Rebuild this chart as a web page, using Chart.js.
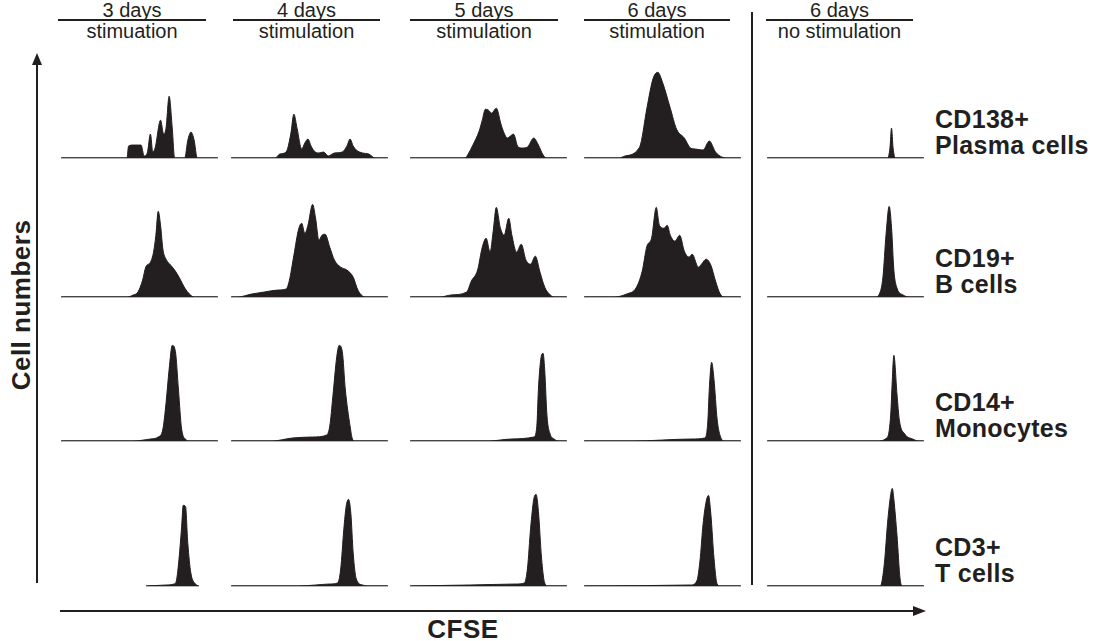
<!DOCTYPE html>
<html>
<head>
<meta charset="utf-8">
<script src="https://cdn.jsdelivr.net/npm/chart.js@4.4.1/dist/chart.umd.min.js"></script>
<style>
  body { margin: 0; background: #fff; }
  #fig { position: relative; width: 1102px; height: 641px; overflow: hidden; font-family: "Liberation Sans", Arial, sans-serif; color: #231f20; }
  canvas.panel { position: absolute; }
  .hd { position: absolute; font-size: 20px; white-space: nowrap; transform: translateX(-50%); line-height: 1; }
  .hline { position: absolute; height: 2px; background: #231f20; }
  .lbl { position: absolute; font-weight: bold; font-size: 25px; line-height: 26px; letter-spacing: 0.3px; white-space: nowrap; }
  .ax { position: absolute; font-weight: bold; font-size: 26px; letter-spacing: 0.5px; white-space: nowrap; }
  svg { position: absolute; left: 0; top: 0; }
</style>
</head>
<body>
<div id="fig">
  <svg width="1102" height="641">
    <line x1="37" y1="583" x2="37" y2="62" stroke="#231f20" stroke-width="2"/>
    <polygon points="37,53 32,65 42,65" fill="#231f20"/>
    <line x1="60" y1="611" x2="916" y2="611" stroke="#231f20" stroke-width="2"/>
    <polygon points="926,611 913,606 913,616" fill="#231f20"/>
    <line x1="752" y1="12" x2="752" y2="585" stroke="#231f20" stroke-width="2"/>
  </svg>
</div>
<script>
// column headers and row labels
const days = ["3 days", "4 days", "5 days", "6 days", "6 days"];
const conditions = ["stimuation", "stimulation", "stimulation", "stimulation", "no stimulation"];
const cellTypes = [["CD138+", "Plasma cells"], ["CD19+", "B cells"], ["CD14+", "Monocytes"], ["CD3+", "T cells"]];

// histograms: [CFSE position in % of panel width, cell count]
const plasma3 = [[0,0],[42,0],[43,12],[46,13],[51,13],[53,2],[55,5],[57,24],[58.5,6],[60,10],[63.5,38],[65.5,24],[67,30],[69,62],[71,30],[72.5,0],[79,0],[81,18],[83,26],[85,18],[87,0],[100,0]];
const plasma4 = [[0,0],[28,0],[31,4],[35,6],[38,24],[40,44],[42,30],[45,9],[47,15],[49,19],[51,12],[53,7],[56,5],[59,6],[62,2],[66,5],[71,6],[74,12],[76,19],[78,12],[80,8],[84,5],[88,4],[92,0],[100,0]];
const plasma5 = [[0,0],[35,0],[37,4],[40,13],[44,27],[46,38],[48,49],[50,48],[52,45],[55,50],[58,34],[60,25],[62,20],[64,22],[66,24],[69,11],[72,10],[75,11],[79,20],[82,13],[85,3],[87,0],[100,0]];
const plasma6 = [[0,0],[22,0],[26,2],[31,4],[34,8],[36,14],[40,50],[44,80],[47,86],[50,76],[55,50],[59,29],[64,20],[68,10],[71,9],[76,8],[80,17],[84,6],[88,1],[91,0],[100,0]];
const plasmaNo = [[0,0],[77,0],[78.5,10],[79.5,30],[80.5,10],[82,0],[100,0]];

const bcell3 = [[0,0],[42,0],[46,2],[49,5],[52,17],[54,30],[57,35],[59,45],[60.5,62],[62,86],[63.5,72],[65,48],[67,38],[70,32],[73,26],[76,18],[79,9],[82,3],[85,0],[100,0]];
const bcell4 = [[0,0],[4,0],[13,3],[21,5],[30,7],[35,8],[37,16],[40,42],[43,68],[45,74],[47,64],[49,72],[52,93],[54,78],[56,57],[58,62],[60,63],[63,50],[66,37],[70,30],[74,27],[78,20],[81,7],[84,1],[86,0],[100,0]];
const bcell5 = [[0,0],[19,0],[26,2],[36,5],[39,16],[43,27],[46,50],[48.5,59],[51,45],[53,66],[55,90],[57.5,70],[60,62],[63,79],[65,62],[68,45],[71,53],[74,37],[77,33],[80,41],[83,25],[86,10],[89,3],[92,0],[100,0]];
const bcell6 = [[0,0],[19,0],[27,3],[33,9],[37,26],[40,51],[43,59],[46,90],[48,72],[51,69],[53,72],[55,62],[58,56],[61,62],[64,46],[67,40],[69,43],[73,30],[75,33],[78,38],[81,32],[84,16],[87,3],[90,0],[100,0]];
const bcellNo = [[0,0],[69,0],[72,4],[74,20],[76,63],[78,91],[79.5,70],[81,27],[83,9],[87,2],[91,0],[100,0]];

const mono3 = [[0,0],[46,0],[57,2],[62,4],[65,12],[67,38],[69,72],[71,96],[73,90],[75,51],[77,12],[80,1],[81,0],[100,0]];
const mono4 = [[0,0],[26,0],[39,3],[52,4],[61,6],[63,15],[65,45],[67.5,85],[69,96],[71,90],[73,51],[76,15],[77.5,2],[79,0],[100,0]];
const mono5 = [[0,0],[50,0],[65,2],[79,4],[81,15],[82,52],[83.5,82],[85,88],[86,72],[87.5,25],[89.5,7],[92,2],[95,0],[100,0]];
const mono6 = [[0,0],[31,0],[69,2],[77,3],[79,18],[80,52],[81.5,79],[83,62],[85,22],[87,5],[90,0],[100,0]];
const monoNo = [[0,0],[70,0],[77,4],[79,27],[80,61],[81,86],[83,47],[84.5,21],[88,7],[93,2],[97,0],[100,0]];

const tcell3 = [[54,0],[67,1],[72,2],[73.5,5],[75,23],[77,60],[78,81],[79.5,80],[81,43],[83,13],[86,2],[88,0]];
const tcell4 = [[0,0],[43,0],[54,1],[63,2],[68,3],[70,17],[72,57],[73.5,80],[75,87],[76.5,73],[78,33],[80,7],[84,1],[87,0],[100,0]];
const tcell5 = [[0,0],[38,1],[68,2],[73,3],[75,18],[77,58],[79,87],[80.5,92],[82,75],[84,28],[86,3],[88,0],[100,0]];
const tcell6 = [[0,0],[68,1],[72,5],[74,25],[76,62],[78,85],[79.5,91],[81,72],[83,28],[85,2],[87,0],[100,0]];
const tcellNo = [[0,0],[72,0],[73,2],[75,24],[77,64],[79,92],[80,98],[81,87],[83,51],[85,7],[86.5,0],[100,0]];

const rows = [
  [plasma3, plasma4, plasma5, plasma6, plasmaNo],
  [bcell3, bcell4, bcell5, bcell6, bcellNo],
  [mono3, mono4, mono5, mono6, monoNo],
  [tcell3, tcell4, tcell5, tcell6, tcellNo]
];

// layout (px)
const colLeft = [61, 231, 410, 584, 767];
const colWidth = 157;
const rowBase = [158, 297, 441, 586];
const canvasH = 130;
const headLine = [[58, 206], [233, 380], [410, 558], [584, 730], [766, 913]];

const fig = document.getElementById("fig");

function addDiv(cls, text, css) {
  const d = document.createElement("div");
  d.className = cls;
  d.textContent = text;
  Object.assign(d.style, css);
  fig.appendChild(d);
  return d;
}

headLine.forEach((h, i) => {
  const cx = (h[0] + h[1]) / 2;
  addDiv("hd", days[i], { left: cx + "px", top: "0px" });
  addDiv("hline", "", { left: h[0] + "px", top: "19px", width: (h[1] - h[0]) + "px" });
  addDiv("hd", conditions[i], { left: cx + "px", top: "21px" });
});

cellTypes.forEach((t, r) => {
  const d = addDiv("lbl", "", { left: "935px", top: (rowBase[r] - 52) + "px" });
  d.innerHTML = t[0] + "<br>" + t[1];
});

addDiv("ax", "Cell numbers", { left: "21px", top: "305px", transform: "translate(-50%,-50%) rotate(-90deg)" });
addDiv("ax", "CFSE", { left: "463px", top: "629px", transform: "translate(-50%,-50%)" });

rows.forEach((row, r) => {
  row.forEach((pts, c) => {
    const xmin = pts[0][0], xmax = pts[pts.length - 1][0];
    const cv = document.createElement("canvas");
    cv.className = "panel";
    const left = colLeft[c] + colWidth * xmin / 100;
    const w = colWidth * (xmax - xmin) / 100;
    cv.width = Math.round(w);
    cv.height = canvasH;
    cv.style.left = Math.round(left) + "px";
    cv.style.top = "0px";
    fig.appendChild(cv);
    const chart = new Chart(cv.getContext("2d"), {
      type: "line",
      data: {
        datasets: [{
          data: pts.map(p => ({ x: p[0], y: p[1] })),
          fill: "origin",
          backgroundColor: "#231f20",
          borderColor: "#231f20",
          borderWidth: 1,
          pointRadius: 0,
          cubicInterpolationMode: "monotone"
        }]
      },
      options: {
        responsive: false,
        animation: false,
        events: [],
        layout: { padding: { top: 0, bottom: 2, left: 0, right: 0 } },
        plugins: { legend: { display: false }, tooltip: { enabled: false } },
        scales: {
          x: {
            type: "linear", min: xmin, max: xmax,
            grid: { display: false },
            ticks: { display: false },
            border: { display: true, color: "#6d6d6d", width: 1.5 }
          },
          y: { min: 0, max: 100, display: false }
        }
      }
    });
    // one y unit = one pixel, baseline on the row line
    const ca = chart.chartArea;
    chart.options.scales.y.max = ca.bottom - ca.top;
    chart.update();
    cv.style.top = (rowBase[r] - chart.chartArea.bottom) + "px";
  });
});
</script>
</body>
</html>
